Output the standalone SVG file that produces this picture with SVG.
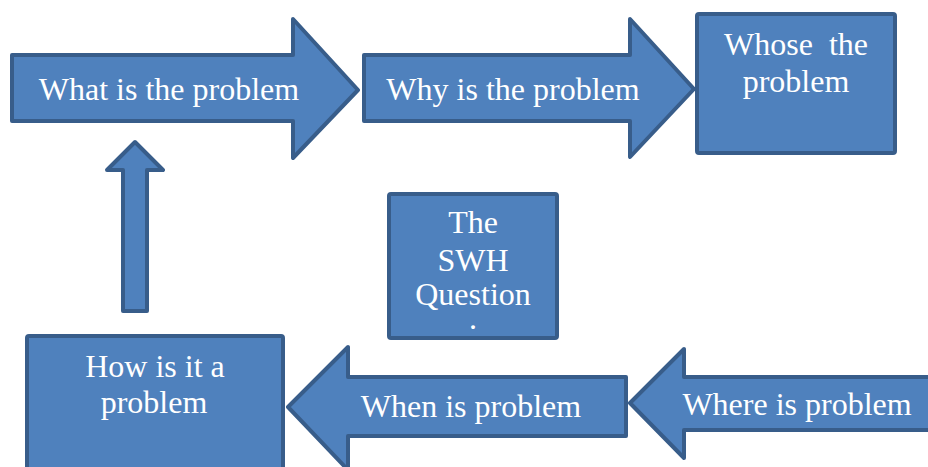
<svg xmlns="http://www.w3.org/2000/svg" width="928" height="467" viewBox="0 0 928 467">
  <style>
    .shape { fill: #4f81bd; stroke: #385d8a; stroke-width: 4; stroke-linejoin: round; }
    .label { fill: #ffffff; font-family: "Liberation Serif", "Times New Roman", serif; font-size: 32px; text-anchor: middle; }
  </style>
  <rect width="928" height="467" fill="#ffffff"/>

  <!-- Boxes -->
  <g id="whose">
    <rect class="shape" x="697" y="14" width="198" height="139" rx="2"/>
    <text class="label" x="796" y="55" xml:space="preserve">Whose  the</text>
    <text class="label" x="796" y="92">problem</text>
  </g>

  <g id="swh">
    <rect class="shape" x="389" y="194" width="168" height="144" rx="2"/>
    <text class="label" x="473" y="233">The</text>
    <text class="label" x="473" y="271">SWH</text>
    <text class="label" x="473" y="305">Question</text>
    <text class="label" x="473" y="329" font-size="8">.</text>
  </g>

  <g id="how">
    <rect class="shape" x="27" y="336" width="256" height="136" rx="2"/>
    <text class="label" x="155" y="377">How is it a</text>
    <text class="label" x="154" y="413">problem</text>
  </g>

  <!-- Block arrows -->
  <g id="connectors">
    <g id="what">
      <path class="shape" d="M12,55 H293 V19 L358,90 L293,158 V121 H12 Z"/>
      <text class="label" x="169" y="100">What is the problem</text>
    </g>
    <g id="why">
      <path class="shape" d="M364,55 H630 V19 L694,89 L630,157 V121 H364 Z"/>
      <text class="label" x="513" y="100">Why is the problem</text>
    </g>
    <g id="up-arrow">
      <path class="shape" d="M135,142 L163,170 H147 V311 H123 V170 H107 Z"/>
    </g>
    <g id="when">
      <path class="shape" d="M288,407 L348,347 V377 H626 V436 H348 V470 Z"/>
      <text class="label" x="471" y="417">When is problem</text>
    </g>
    <g id="where">
      <path class="shape" d="M630,403 L684,349 V377 H935 V430 H684 V458 Z"/>
      <text class="label" x="797" y="415">Where is problem</text>
    </g>
  </g>
</svg>
